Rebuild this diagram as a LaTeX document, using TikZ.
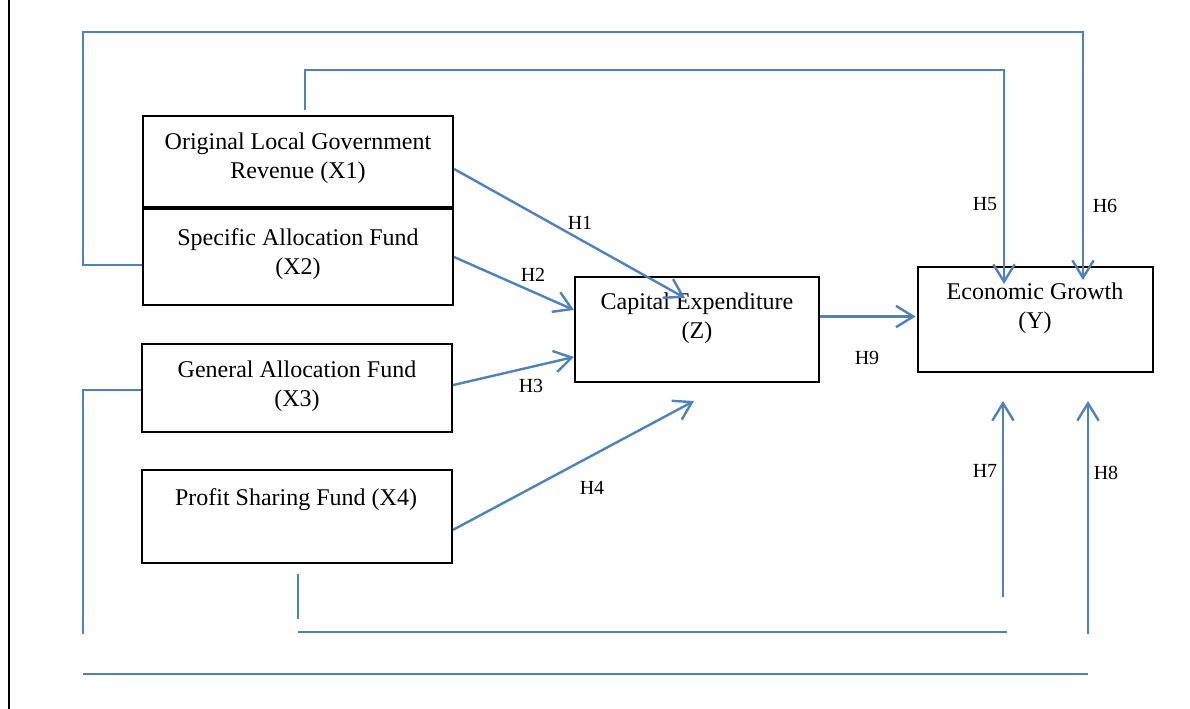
\documentclass[tikz,border=0pt]{standalone}
\usepackage{fontspec}
\setmainfont{Liberation Serif}
\usetikzlibrary{arrows.meta, positioning, calc}
\definecolor{linkblue}{RGB}{79,129,189}

\begin{document}
\begin{tikzpicture}[
  x=0.75pt, y=-0.75pt,
  var/.style={draw, line width=1.6pt, inner sep=0pt},
  vartxt/.style={align=center, inner sep=0pt, font=\fontsize{18}{21.5}\selectfont},
  hyp/.style={inner sep=0pt, font=\fontsize{15}{18}\selectfont},
  link/.style={linkblue, line width=1.8pt},
  arr/.style={link, -{Straight Barb[length=13pt, width=16pt, line width=1.8pt]}}
]
\useasboundingbox (0,0) rectangle (1190,709);
\draw[line width=2pt] (9,0) -- (9,709);

% boxes
\node[var, minimum width=232.5pt, minimum height=68.25pt] (x1) at (298,161.5) {};
\node[var, minimum width=232.5pt, minimum height=72pt] (x2) at (298,257) {};
\node[var, minimum width=232.5pt, minimum height=66pt] (x3) at (297,388) {};
\node[var, minimum width=232.5pt, minimum height=69.75pt] (x4) at (297,516.5) {};
\node[var, minimum width=183pt, minimum height=78.75pt] (z) at (697,329.5) {};
\node[var, minimum width=176.25pt, minimum height=78.75pt] (y) at (1035.5,319.5) {};

\node[vartxt] (x1txt) at (298,158) {Original Local Government\\Revenue (X1)};
\node[vartxt] (x2txt) at (298,254) {Specific Allocation Fund\\(X2)};
\node[vartxt] (x3txt) at (297,386) {General Allocation Fund\\(X3)};
\node[vartxt] (x4txt) at (296,500) {Profit Sharing Fund (X4)};
\node[vartxt] (ztxt) at (697,318) {Capital Expenditure\\(Z)};
\node[vartxt] (ytxt) at (1035,308.5) {Economic Growth\\(Y)};

% free ends
\coordinate (h1tip) at (685,298);
\coordinate (h2tip) at (574,310);
\coordinate (h3tip) at (574,357);
\coordinate (h4tip) at (694,401);
\coordinate (h5tip) at (1004,284);
\coordinate (h6tip) at (1083,280);
\coordinate (h7tip) at (1003,401);
\coordinate (h8tip) at (1088,401);

% direct paths
\draw[arr] ([yshift=-5.6pt]x1.east) -- (h1tip);
\draw[arr] (x2.east) -- (h2tip);
\draw[arr] ([yshift=2.2pt]x3.east) -- (h3tip);
\draw[arr] ([yshift=-10pt]x4.east) -- (h4tip);
\draw[arr] ([yshift=9.75pt]z.east) -- ([yshift=2.25pt,xshift=-1pt]y.west);

% paths round the top
\draw[arr] (305,110) -- (305,70) -| (h5tip);
\draw[arr] ([yshift=-6pt]x2.west) -- (83,265) |- (1083,32) -- (h6tip);

% paths round the bottom
\draw[link] (298,574) -- (298,619);
\draw[link] (298,632) -- (1007,632);
\draw[arr] (1003,597) -- (h7tip);
\draw[link] ([yshift=-1.5pt]x3.west) -- (83,390) -- (83,634);
\draw[link] (83,674) -- (1088,674);
\draw[arr] (1088,634) -- (h8tip);

% labels
\node[hyp] (h1) at (580,223) {H1};
\node[hyp] (h2) at (533,275) {H2};
\node[hyp] (h3) at (531,386) {H3};
\node[hyp] (h4) at (592,488) {H4};
\node[hyp] (h5) at (985,204) {H5};
\node[hyp] (h6) at (1105,206) {H6};
\node[hyp] (h7) at (985,471) {H7};
\node[hyp] (h8) at (1106,473) {H8};
\node[hyp] (h9) at (867,358) {H9};
\end{tikzpicture}
\end{document}
